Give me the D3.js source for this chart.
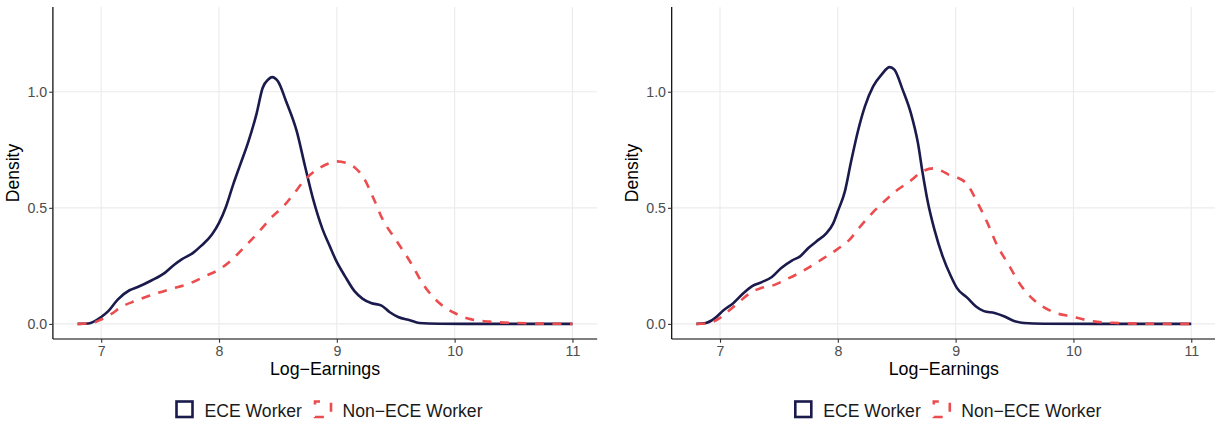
<!DOCTYPE html>
<html>
<head>
<meta charset="utf-8">
<script src="https://cdn.jsdelivr.net/npm/d3@7"></script>
<style>
  html, body { margin: 0; padding: 0; background: #ffffff; }
  svg { display: block; font-family: "Liberation Sans", Arial, Helvetica, sans-serif; }
</style>
</head>
<body>
<svg id="chart" width="1215" height="424"></svg>
<script>
// Log-earnings density curves, two panels side by side.
const xTicks = [7, 8, 9, 10, 11];
const yTicks = [0.0, 0.5, 1.0];
const yTickLabels = ["0.0", "0.5", "1.0"];
const seriesNames = ["ECE Worker", "Non\u2212ECE Worker"];
const xTitle = "Log\u2212Earnings";
const yTitle = "Density";

// Left panel
const leftEceX = [6.8, 6.89, 7.0, 7.06, 7.14, 7.24, 7.31, 7.43, 7.54, 7.62, 7.68, 7.78, 7.85, 7.94, 8.0, 8.06, 8.12, 8.18, 8.25, 8.32, 8.37, 8.42, 8.45, 8.5, 8.57, 8.66, 8.73, 8.8, 8.88, 8.94, 8.99, 9.07, 9.15, 9.22, 9.29, 9.38, 9.45, 9.52, 9.62, 9.7, 9.87, 10.2, 11.0];
const leftEceY = [0, 0.002, 0.03, 0.055, 0.105, 0.145, 0.159, 0.188, 0.22, 0.255, 0.277, 0.306, 0.337, 0.385, 0.435, 0.506, 0.6, 0.686, 0.786, 0.908, 1.016, 1.054, 1.063, 1.045, 0.958, 0.829, 0.679, 0.535, 0.406, 0.335, 0.277, 0.205, 0.141, 0.108, 0.09, 0.079, 0.05, 0.03, 0.016, 0.004, 0.001, 0, 0];
const leftNonX = [6.8, 6.92, 7.0, 7.09, 7.17, 7.29, 7.43, 7.6, 7.74, 7.88, 8.0, 8.11, 8.22, 8.33, 8.44, 8.56, 8.64, 8.73, 8.81, 8.92, 9.0, 9.08, 9.16, 9.23, 9.31, 9.39, 9.5, 9.62, 9.74, 9.87, 10.0, 10.12, 10.29, 10.52, 10.8, 11.0];
const leftNonY = [0, 0.004, 0.019, 0.044, 0.073, 0.099, 0.125, 0.152, 0.172, 0.205, 0.234, 0.277, 0.334, 0.392, 0.456, 0.514, 0.564, 0.621, 0.657, 0.689, 0.7, 0.693, 0.67, 0.628, 0.542, 0.449, 0.363, 0.27, 0.165, 0.09, 0.047, 0.022, 0.01, 0.004, 0.001, 0];

// Right panel
const rightEceX = [6.8, 6.88, 6.96, 7.03, 7.11, 7.2, 7.27, 7.35, 7.44, 7.52, 7.61, 7.68, 7.75, 7.82, 7.9, 7.96, 8.0, 8.06, 8.11, 8.17, 8.23, 8.3, 8.37, 8.44, 8.48, 8.55, 8.62, 8.68, 8.72, 8.76, 8.82, 8.89, 8.96, 9.01, 9.1, 9.17, 9.24, 9.33, 9.41, 9.49, 9.58, 9.75, 10.2, 11.0];
const rightEceY = [0, 0.004, 0.026, 0.059, 0.088, 0.133, 0.162, 0.179, 0.202, 0.241, 0.273, 0.291, 0.327, 0.356, 0.389, 0.432, 0.485, 0.571, 0.693, 0.829, 0.937, 1.023, 1.073, 1.106, 1.095, 1.009, 0.908, 0.779, 0.65, 0.535, 0.406, 0.291, 0.205, 0.155, 0.112, 0.076, 0.055, 0.047, 0.033, 0.014, 0.004, 0.001, 0, 0];
const rightNonX = [6.8, 6.91, 7.0, 7.08, 7.17, 7.25, 7.35, 7.45, 7.56, 7.7, 7.87, 8.0, 8.1, 8.18, 8.28, 8.38, 8.49, 8.61, 8.72, 8.81, 8.89, 8.94, 9.0, 9.1, 9.18, 9.27, 9.35, 9.45, 9.55, 9.66, 9.81, 10.0, 10.17, 10.37, 10.6, 11.0];
const rightNonY = [0, 0.004, 0.026, 0.059, 0.098, 0.131, 0.155, 0.166, 0.191, 0.227, 0.28, 0.323, 0.363, 0.413, 0.471, 0.521, 0.571, 0.614, 0.657, 0.67, 0.657, 0.643, 0.633, 0.6, 0.528, 0.435, 0.341, 0.255, 0.169, 0.105, 0.055, 0.03, 0.011, 0.004, 0.001, 0];

const colors = ["#1a1a4c", "#eb4c4e"];
const gridColor = "#ebebeb";
const textGrey = "#4d4d4d";

const svg = d3.select("#chart");

const panels = [
  { left: 52.9, series: [[leftEceX, leftEceY], [leftNonX, leftNonY]] },
  { left: 671.7, series: [[rightEceX, rightEceY], [rightNonX, rightNonY]] }
];

const panelWidth = 544.3;
const plotTop = 7, plotBottom = 339;

panels.forEach(p => {
  const g = svg.append("g");
  const x = d3.scaleLinear().domain([6.59, 11.21]).range([p.left, p.left + panelWidth]);
  const y = d3.scaleLinear().domain([-0.065, 1.365]).range([plotBottom, plotTop]);

  // grid lines
  g.append("g").selectAll("line").data(xTicks).join("line")
    .attr("x1", d => x(d)).attr("x2", d => x(d))
    .attr("y1", plotTop).attr("y2", plotBottom)
    .attr("stroke", gridColor).attr("stroke-width", 1.1);
  g.append("g").selectAll("line").data(yTicks).join("line")
    .attr("x1", p.left).attr("x2", p.left + panelWidth)
    .attr("y1", d => y(d)).attr("y2", d => y(d))
    .attr("stroke", gridColor).attr("stroke-width", 1.1);

  // density curves
  const line = d3.line().curve(d3.curveMonotoneX)
    .x(d => x(d[0])).y(d => y(d[1]));
  p.series.forEach(([xs, ys], i) => {
    const pts = xs.map((v, k) => [v, ys[k]]);
    g.append("path").datum(pts)
      .attr("d", line)
      .attr("fill", "none")
      .attr("stroke", colors[i])
      .attr("stroke-width", 2.6)
      .attr("stroke-linejoin", "round")
      .attr("stroke-dasharray", i === 1 ? "9,8.5" : null);
  });

  // axes
  const xAxis = d3.axisBottom(x).tickValues(xTicks).tickSize(3.7).tickPadding(3).tickFormat(d3.format("d"));
  const yAxis = d3.axisLeft(y).tickValues(yTicks).tickSize(3.7).tickPadding(2)
    .tickFormat((d, i) => yTickLabels[i]);

  const gx = g.append("g").attr("transform", `translate(0,${plotBottom})`).call(xAxis);
  const gy = g.append("g").attr("transform", `translate(${p.left},0)`).call(yAxis);
  [gx, gy].forEach(a => {
    a.select(".domain").attr("stroke", "#000").attr("stroke-width", 1.2);
    a.selectAll(".tick line").attr("stroke", "#333").attr("stroke-width", 1.1);
    a.selectAll(".tick text").attr("fill", textGrey).attr("font-size", 14.2)
      .attr("font-family", "Liberation Sans, Arial, sans-serif");
  });
  // keep the axis lines spanning the full panel
  gx.select(".domain").attr("d", `M${p.left},0H${p.left + panelWidth}`);
  gy.select(".domain").attr("d", `M0,${plotTop}V${plotBottom}`);

  // axis titles
  g.append("text")
    .attr("x", p.left + panelWidth / 2).attr("y", 374.5)
    .attr("text-anchor", "middle").attr("font-size", 17.8).attr("fill", "#000")
    .text(xTitle);
  g.append("text")
    .attr("transform", `translate(${p.left - 34},${(plotTop + plotBottom) / 2}) rotate(-90)`)
    .attr("text-anchor", "middle").attr("font-size", 17.5).attr("fill", "#000")
    .text(yTitle);

  // legend
  const lg = g.append("g").attr("transform", `translate(${p.left - 52.9},0)`);
  const keyX = [176.5, 315];
  const textX = [204.5, 342.5];
  seriesNames.forEach((name, i) => {
    lg.append("rect")
      .attr("x", keyX[i]).attr("y", 401.5).attr("width", 16).attr("height", 15.5)
      .attr("fill", "none").attr("stroke", colors[i]).attr("stroke-width", 2.6)
      .attr("stroke-dasharray", i === 1 ? "9,12.3" : null)
      .attr("stroke-dashoffset", i === 1 ? 4 : null);
    lg.append("text")
      .attr("x", textX[i]).attr("y", 416.8)
      .attr("font-size", 17.6).attr("fill", "#1a1a1a")
      .text(name);
  });
});
</script>
</body>
</html>
